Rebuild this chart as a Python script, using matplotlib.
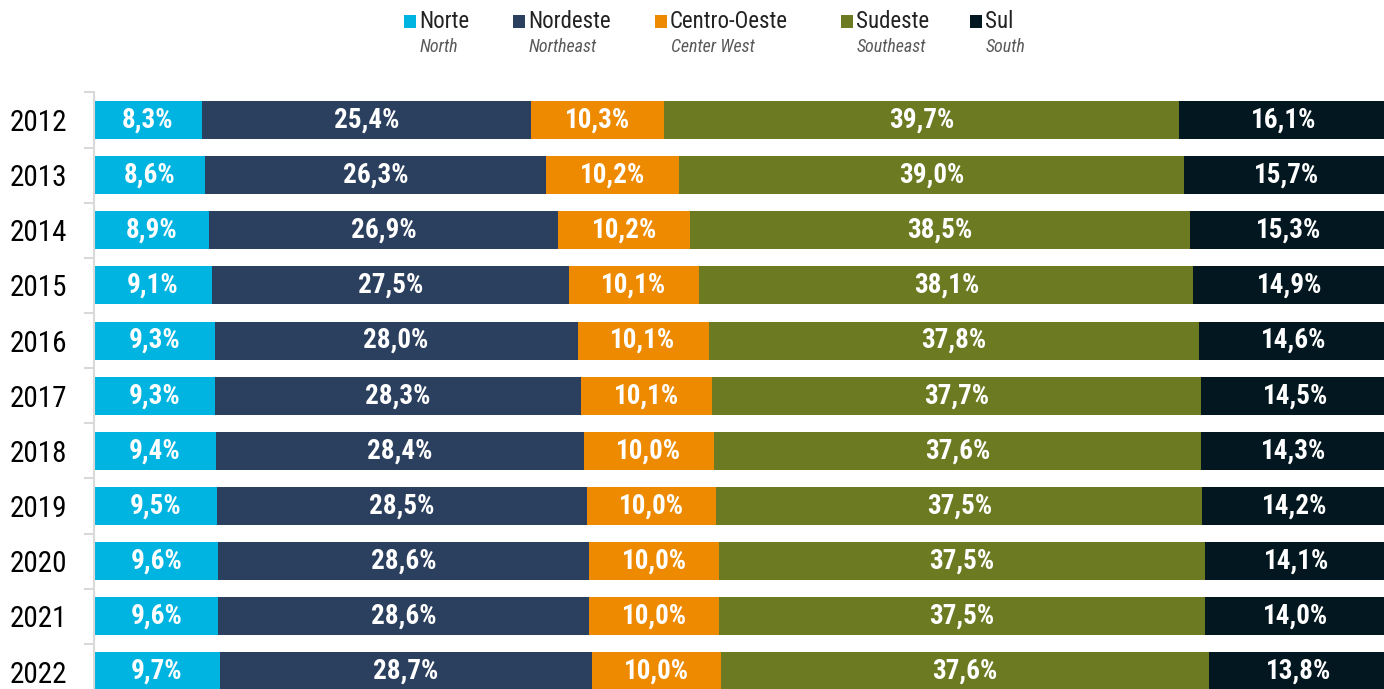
import numpy as np
import matplotlib
matplotlib.use('Agg')
import matplotlib.pyplot as plt
from matplotlib.patches import Rectangle

years = ['2012', '2013', '2014', '2015', '2016', '2017', '2018', '2019', '2020', '2021', '2022']
regions = ['Norte', 'Nordeste', 'Centro-Oeste', 'Sudeste', 'Sul']
regions_en = ['North', 'Northeast', 'Center West', 'Southeast', 'South']
colors = ['#00B4E1', '#2B3F5E', '#EE8A00', '#6C7A22', '#02171F']

norte = [8.3, 8.6, 8.9, 9.1, 9.3, 9.3, 9.4, 9.5, 9.6, 9.6, 9.7]
nordeste = [25.4, 26.3, 26.9, 27.5, 28.0, 28.3, 28.4, 28.5, 28.6, 28.6, 28.7]
centro_oeste = [10.3, 10.2, 10.2, 10.1, 10.1, 10.1, 10.0, 10.0, 10.0, 10.0, 10.0]
sudeste = [39.7, 39.0, 38.5, 38.1, 37.8, 37.7, 37.6, 37.5, 37.5, 37.5, 37.6]
sul = [16.1, 15.7, 15.3, 14.9, 14.6, 14.5, 14.3, 14.2, 14.1, 14.0, 13.8]

series = [norte, nordeste, centro_oeste, sudeste, sul]

plt.rcParams['font.family'] = ['Roboto Condensed', 'DejaVu Sans']

W, H = 1384, 689
fig = plt.figure(figsize=(W / 100, H / 100), dpi=100)
top_px = 92.4
ax = fig.add_axes([94 / W, 0, 1 - 94 / W, (H - top_px) / H])

y = np.arange(len(years))
left = np.zeros(len(years))
for vals, c in zip(series, colors):
    vals = np.array(vals)
    ax.barh(y, vals, left=left, height=0.69, color=c, linewidth=0)
    for yi, l, v in zip(y, left, vals):
        ax.text(l + v / 2, yi, ('%.1f%%' % v).replace('.', ','),
                ha='center', va='center', color='white',
                fontsize=19.5, fontweight='bold')
    left += vals

ax.set_xticks([])
ax.set_yticks(y)
ax.set_yticklabels(years, fontsize=21)
ax.set_yticks(np.arange(len(years) + 1) - 0.5, minor=True)
ax.tick_params(axis='y', which='major', length=0, pad=19.5)
ax.tick_params(axis='y', which='minor', length=7, width=1.5, color='#D9D9D9')
# limits after the ticks, otherwise set_yticks widens them
ax.set_xlim(0, 99.5)
ax.set_ylim(10.317, -0.5)
for s in ['top', 'right', 'bottom']:
    ax.spines[s].set_visible(False)
ax.spines['left'].set_color('#D9D9D9')
ax.spines['left'].set_linewidth(1.5)

# legend drawn by hand, two lines per entry
leg_x = [404, 513, 655, 841, 970]
for x0, name, name_en, c in zip(leg_x, regions, regions_en, colors):
    fig.add_artist(Rectangle((x0 / W, 1 - 28 / H), 12 / W, 13 / H,
                             transform=fig.transFigure, color=c, lw=0))
    fig.text((x0 + 15) / W, 1 - 22 / H, name, fontsize=16.5,
             ha='left', va='center', color='#222222')
    fig.text((x0 + 16) / W, 1 - 47 / H, name_en, fontsize=13,
             style='italic', ha='left', va='center', color='#595959')

fig.savefig('out.png', dpi=100)
